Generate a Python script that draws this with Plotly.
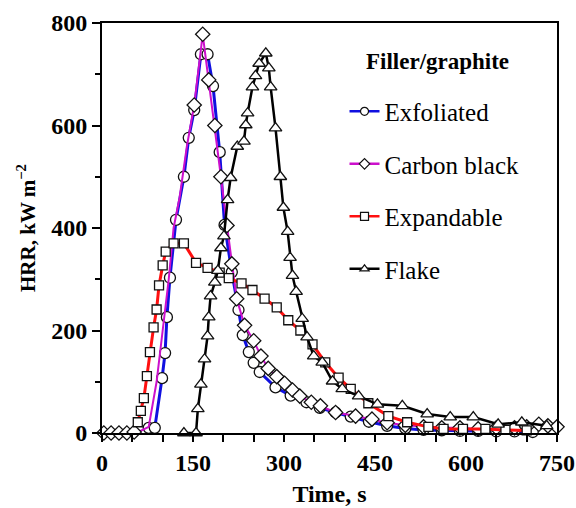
import plotly.graph_objects as go

exf_t = [77, 87, 99, 104, 107, 112, 122, 135, 143, 152, 163, 174, 183, 194, 202, 214, 225, 232, 242, 250, 260, 286, 311, 337, 359, 385, 410, 440, 470, 500, 530, 560, 590, 620, 650, 680, 710]
exf_v = [10, 10, 107, 156, 226, 303, 416, 500, 576, 630, 739, 739, 677, 548, 406, 314, 240, 191, 158, 137, 119, 89, 73, 60, 49, 40, 32, 22, 14, 9, 6, 5, 4, 4, 3, 3, 2]

cb_t = [3, 15, 28, 41, 53, 65, 77, 90, 100, 110, 118, 128, 140, 152, 166, 176, 186, 196, 206, 214, 222, 235, 250, 262, 274, 288, 301, 314, 326, 345, 360, 385, 418, 445, 470, 500, 530, 560, 590, 620, 650, 680, 700, 720, 735, 750]
cb_v = [0, 0, 0, 0, 2, 5, 12, 100, 200, 300, 400, 460, 560, 640, 778, 689, 600, 500, 405, 330, 262, 210, 180, 150, 126, 110, 97, 84, 72, 60, 53, 40, 33, 27, 20, 15, 12, 10, 10, 8, 10, 10, 12, 17, 14, 12]

exp_t = [59, 64, 69, 74, 79, 85, 90, 94, 100, 105, 118, 135, 155, 174, 194, 209, 230, 248, 268, 288, 307, 327, 347, 368, 390, 410, 439, 472, 503, 538, 563, 595, 632, 665, 700]
exp_v = [21, 43, 68, 111, 158, 206, 241, 288, 327, 354, 370, 370, 332, 322, 313, 302, 292, 279, 262, 245, 220, 200, 173, 138, 108, 86, 58, 33, 21, 12, 8, 8, 8, 6, 5]

flk_t = [135, 155, 158, 163, 169, 174, 176, 179, 186, 191, 196, 201, 207, 212, 223, 234, 237, 240, 248, 253, 259, 270, 275, 278, 286, 294, 299, 306, 310, 314, 320, 330, 338, 349, 363, 380, 396, 423, 454, 495, 536, 574, 612, 653, 692, 733]
flk_v = [0, 0, 47, 95, 144, 189, 226, 267, 294, 317, 361, 384, 455, 498, 559, 569, 601, 624, 675, 697, 721, 741, 712, 675, 595, 500, 440, 393, 342, 307, 276, 223, 187, 150, 138, 101, 86, 72, 56, 53, 37, 31, 31, 17, 21, 14]

x_ticks = [0, 150, 300, 450, 600, 750]
y_ticks = [0, 200, 400, 600, 800]

legend_title = "Filler/graphite"

series = [
    ("Exfoliated", exf_t, exf_v, "#1010e0", "circle", 11, 3),
    ("Carbon black", cb_t, cb_v, "#cc10cc", "diamond", 11, 2),
    ("Expandable", exp_t, exp_v, "#ff1010", "square", 9, 3),
    ("Flake", flk_t, flk_v, "#000000", "triangle-up", 11, 2.5),
]

fig = go.Figure()
for i, (name, t, v, col, sym, sz, lw) in enumerate(series):
    if name == "Carbon black":
        # in the original, diamonds on the rising flank are hidden under the circles
        op = [0 if 60 < tt < 150 else 1 for tt in t]
    else:
        op = 1
    fig.add_trace(go.Scatter(
        x=t, y=v, name=name, mode="lines+markers",
        line=dict(color=col, width=lw),
        marker=dict(symbol=sym, size=sz, color="white", opacity=op,
                    line=dict(color="#111111", width=1.3)),
        showlegend=False, cliponaxis=False,
    ))
# legend entries with smaller markers
for i, (name, t, v, col, sym, sz, lw) in enumerate(series):
    fig.add_trace(go.Scatter(
        x=[None], y=[None], name=name, mode="lines+markers",
        line=dict(color=col, width=2.5),
        marker=dict(symbol=sym, size=8, color="white",
                    line=dict(color="#111111", width=1.2)),
        legendgroup=f"g{i}", showlegend=True,
    ))

font_fam = "Liberation Serif, Times New Roman, serif"
fig.update_layout(
    width=576, height=508,
    margin=dict(l=102, r=19, t=23, b=75, autoexpand=False),
    plot_bgcolor="white", paper_bgcolor="white",
    font=dict(family=font_fam, color="black"),
    showlegend=True,
    legend=dict(
        x=0.533, y=0.84, xanchor="left", yanchor="top",
        bgcolor="rgba(0,0,0,0)",
        font=dict(size=25, family=font_fam),
        tracegroupgap=17,
    ),
    annotations=[dict(
        text=f"<b>{legend_title}</b>", xref="paper", yref="paper",
        x=(437 - 102) / 455, y=(433 - 62) / 410, xanchor="center", yanchor="middle",
        showarrow=False, font=dict(size=23, family=font_fam, color="black"),
    )],
    xaxis=dict(
        range=[0, 750], tickvals=x_ticks, ticktext=[f"<b>{v}</b>" for v in x_ticks],
        ticks="outside", ticklen=7, tickwidth=1.5, tickcolor="black",
        minor=dict(dtick=50, tick0=0, ticks="outside", ticklen=7, tickwidth=1.5, tickcolor="black"),
        showline=True, linecolor="black", linewidth=2, mirror=True,
        showgrid=False, zeroline=False, automargin=False,
        tickfont=dict(size=24, family=font_fam),
        title=dict(text="<b>Time, s</b>", font=dict(size=24, family=font_fam), standoff=10),
    ),
    yaxis=dict(
        range=[0, 800], tickvals=y_ticks, ticktext=[f"<b>{v}</b>" for v in y_ticks],
        ticks="outside", ticklen=8, tickwidth=1.5, tickcolor="black",
        minor=dict(dtick=100, tick0=0, ticks="outside", ticklen=5, tickwidth=1.5, tickcolor="black"),
        showline=True, linecolor="black", linewidth=2, mirror=True,
        showgrid=False, zeroline=False, automargin=False,
        tickfont=dict(size=24, family=font_fam),
        title=dict(text="<b>HRR, kW m<sup>−2</sup></b>", font=dict(size=21, family=font_fam), standoff=10),
    ),
)

fig.write_html("out.html", config={"displayModeBar": False},
               post_script="document.body.style.margin='0px';document.body.style.overflow='hidden';")
